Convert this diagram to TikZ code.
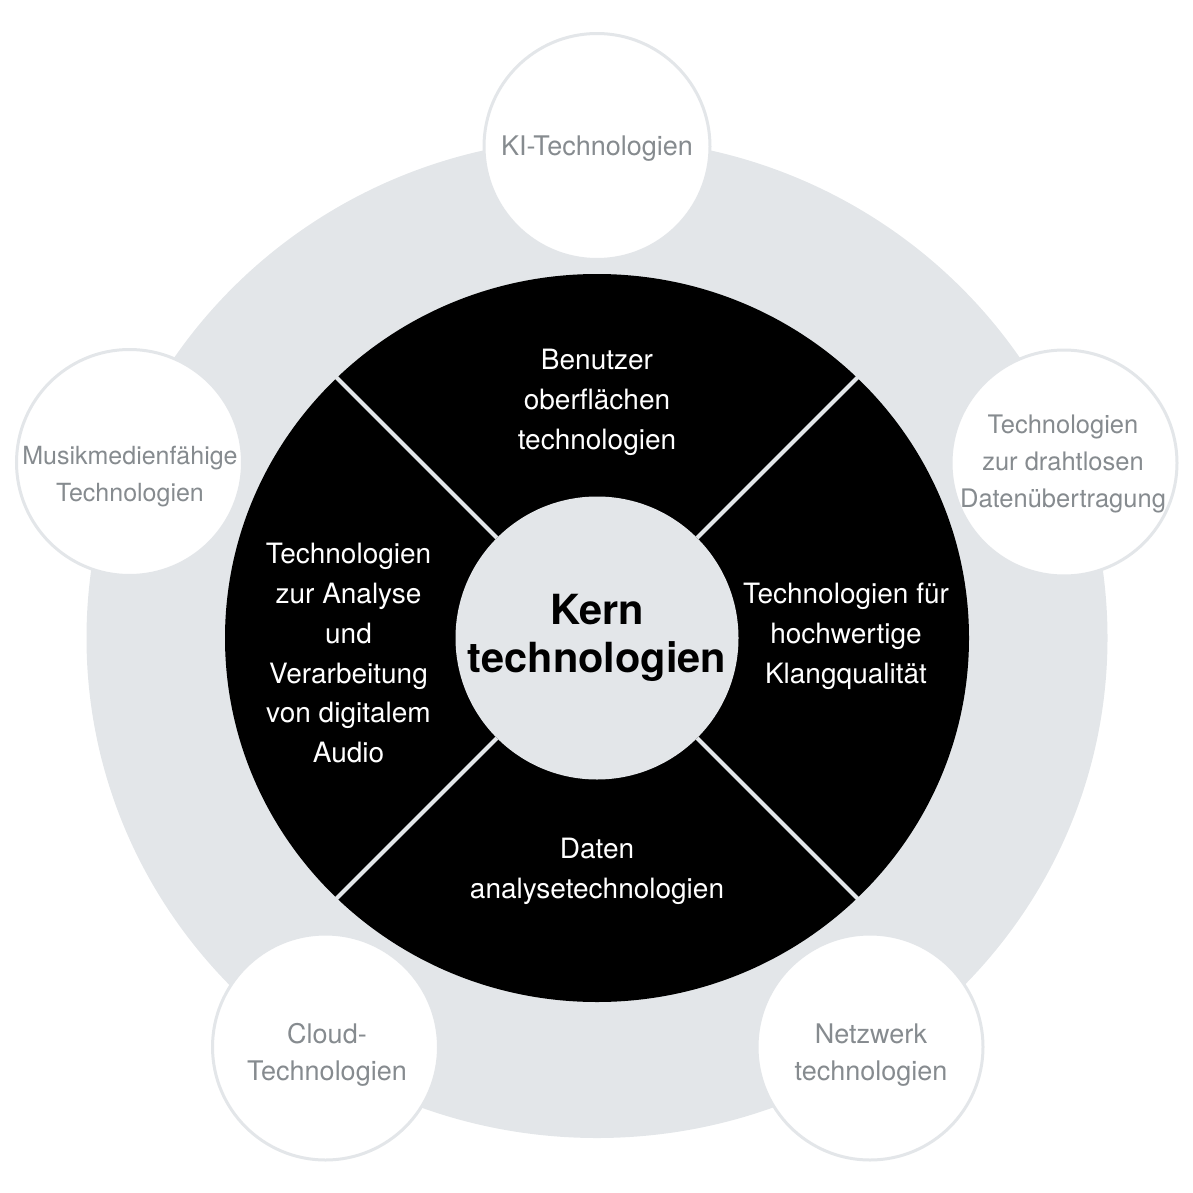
\documentclass[tikz,border=0pt]{standalone}
\usepackage{fontspec}
\setmainfont{TeX Gyre Heros}
\definecolor{ringgray}{RGB}{227,230,233}
\definecolor{labelgray}{RGB}{134,139,143}
\tikzset{
  satellite/.style={circle,draw=ringgray,line width=3pt,fill=white,minimum size=226pt,inner sep=0pt},
  satlabel/.style={align=center,text=labelgray,font=\fontsize{27}{37}\selectfont},
  sector/.style={align=center,text=white,font=\fontsize{28}{39.7}\selectfont},
  divider/.style={draw=ringgray,line width=4pt}
}

\begin{document}
\begin{tikzpicture}[x=1pt,y=-1pt]
\useasboundingbox (0,0) rectangle (1193,1193);
\coordinate (O) at (597,638);
\fill[ringgray] (O) ellipse[x radius=510.5pt,y radius=500pt];
\fill[black] (O) ellipse[x radius=372pt,y radius=364pt];
\node[circle,fill=ringgray,minimum size=283pt,inner sep=0pt,align=center,font=\fontsize{41.5}{47.5}\selectfont\bfseries] (kern) at (O) {Kern\\technologien};
\foreach \a in {45,135,225,315}
  \draw[divider] (kern) -- ([shift={(\a:370)}]O);
\node[sector] (benutzer) at (597,402.4) {Benutzer\\oberflächen\\technologien};
\node[sector] (klang) at (846,636.4) {Technologien für\\hochwertige\\Klangqualität};
\node[sector] (audio) at (348.5,653.2) {Technologien\\zur Analyse\\und\\Verarbeitung\\von digitalem\\Audio};
\node[sector] (daten) at (597,871.3) {Daten\\analysetechnologien};
\node[satellite] (ki) at (597,146.5) {};
\node[satellite] (musik) at (129.5,462.5) {};
\node[satellite] (funk) at (1064,463) {};
\node[satellite] (cloud) at (325.5,1047) {};
\node[satellite] (netz) at (870,1047) {};
\node[satlabel] (kitext) at (597,148.8) {KI-Technologien};
\node[satlabel,font=\fontsize{25}{37}\selectfont] (musiktext) at (130,476.1) {Musikmedienfähige\\Technologien};
\node[satlabel,font=\fontsize{25.5}{37}\selectfont] (funktext) at (1063,463.5) {Technologien\\zur drahtlosen\\Datenübertragung};
\node[satlabel] (cloudtext) at (327,1054.6) {Cloud-\\Technologien};
\node[satlabel] (netztext) at (871,1054.6) {Netzwerk\\technologien};
\end{tikzpicture}
\end{document}
